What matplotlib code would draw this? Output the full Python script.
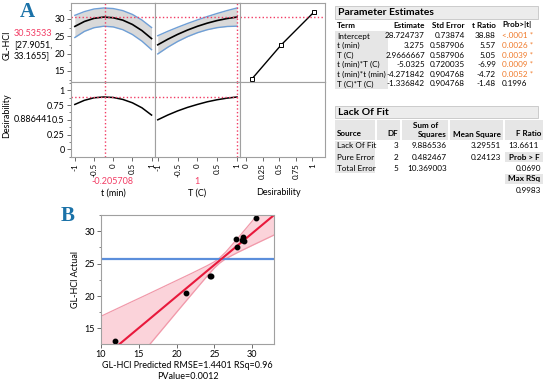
import numpy as np
import matplotlib
matplotlib.use('Agg')
import matplotlib.pyplot as plt
from matplotlib.patches import Rectangle
from matplotlib.ticker import MultipleLocator

plt.rcParams['font.family'] = ['Lato', 'DejaVu Sans']

# profiler curves
t_levels = [-1, -0.75, -0.5, -0.25, 0, 0.25, 0.5, 0.75, 1]
gl_t = [27.84, 29.27, 30.17, 30.53, 30.35, 29.65, 28.41, 26.63, 24.33]
gl_t_hi = [31.04, 32.12, 32.87, 33.16, 33.0, 32.4, 31.31, 29.68, 27.53]
gl_t_lo = [24.64, 26.42, 27.47, 27.90, 27.70, 26.90, 25.51, 23.58, 21.13]
gl_T = [22.53, 24.12, 25.54, 26.79, 27.87, 28.79, 29.54, 30.12, 30.54]
gl_T_hi = [25.16, 26.42, 27.59, 28.69, 29.72, 30.69, 31.59, 32.42, 33.17]
gl_T_lo = [19.90, 21.82, 23.49, 24.89, 26.02, 26.89, 27.49, 27.82, 27.91]
des_t = [0.76, 0.83, 0.873, 0.886, 0.878, 0.845, 0.788, 0.703, 0.58]
des_T = [0.50, 0.58, 0.65, 0.71, 0.76, 0.805, 0.84, 0.867, 0.886]
des_fun_x = [0.09, 0.53, 1.03]
des_fun_y = [12.7, 22.5, 32.1]
best_t, best_T = -0.205708, 1
best_gl, best_des = 30.53533, 0.886441

# actual by predicted
predicted = [11.9, 21.3, 24.4, 24.55, 27.9, 28.05, 28.6, 28.8, 28.95, 30.55]
actual = [13.05, 20.4, 23.05, 23.1, 28.87, 27.5, 28.7, 29.1, 28.45, 32.05]
band_x = [10, 12, 14, 16, 18, 20, 22, 24, 25, 25.7, 26.5, 28, 30, 32.9]
fit_y = [10.21, 12.15, 14.10, 16.04, 17.99, 19.94, 21.88, 23.83, 24.80, 25.48, 26.26, 27.72, 29.67, 32.49]
band_hi = [16.88, 17.98, 19.08, 20.17, 21.28, 22.39, 23.50, 24.65, 25.28, 25.88, 26.77, 28.77, 31.54, 35.57]
band_lo = [3.54, 6.32, 9.12, 11.91, 14.70, 17.49, 20.26, 23.01, 24.32, 25.08, 25.75, 26.67, 27.80, 29.41]
mean_actual = 25.65

# tables
terms = ["Intercept", "t (min)", "T (C)", "t (min)*T (C)", "t (min)*t (min)", "T (C)*T (C)"]
estimates = ["28.724737", "3.275", "2.9666667", "-5.0325", "-4.271842", "-1.336842"]
std_errors = ["0.73874", "0.587906", "0.587906", "0.720035", "0.904768", "0.904768"]
t_ratios = ["38.88", "5.57", "5.05", "-6.99", "-4.72", "-1.48"]
probs = ["<.0001 *", "0.0026 *", "0.0039 *", "0.0009 *", "0.0052 *", "0.1996"]
sources = ["Lack Of Fit", "Pure Error", "Total Error"]
dfs = ["3", "2", "5"]
sum_sq = ["9.886536", "0.482467", "10.369003"]
mean_sq = ["3.29551", "0.24123", ""]
f_ratio, prob_f, max_rsq = "13.6611", "0.0690", "0.9983"

W, H = 550, 381
RED = '#f23c64'
GRID = '#a0a0a0'
FS = 5.9

fig = plt.figure(figsize=(W / 100, H / 100), dpi=100)


def add_ax(l, t, r, b):
    return fig.add_axes([l / W, 1 - b / H, (r - l) / W, (b - t) / H])


def txt(x, y, s, **kw):
    kw.setdefault('fontsize', FS)
    kw.setdefault('va', 'center')
    return fig.text(x / W, 1 - y / H, s, **kw)


def box(l, t, r, b, fc='#e6e6e6', ec='none'):
    fig.add_artist(Rectangle((l / W, 1 - b / H), (r - l) / W, (b - t) / H,
                             transform=fig.transFigure, facecolor=fc, edgecolor=ec, lw=0.6))


def style(ax):
    for s in ax.spines.values():
        s.set_color(GRID)
        s.set_linewidth(0.8)
    ax.tick_params(labelsize=6.5, length=3, width=0.6, color='#555555', pad=1.5)
    ax.tick_params(which='minor', length=1.8, width=0.5, color='#555555')


# ---- panel A: profiler ----
cols = [(71, 155), (155, 240), (240, 325)]
rows = [(3, 82), (82, 157)]
xlims = [(-1.1, 1.09), (-1.07, 1.075), (-0.09, 1.19)]
axes = [[add_ax(c[0], r[0], c[1], r[1]) for c in cols] for r in rows]

for i in range(2):
    for j in range(3):
        ax = axes[i][j]
        style(ax)
        ax.set_xlim(*xlims[j])
        ax.set_ylim((11.8, 34.6) if i == 0 else (-0.13, 1.14))
        if j > 0:
            ax.tick_params(left=False, labelleft=False, which='both')
        if i == 0:
            ax.tick_params(bottom=False, labelbottom=False)

for ax in axes[1][:2]:
    ax.set_xticks([-1, -0.5, 0, 0.5, 1])
    ax.set_xticklabels(['-1', '-0.5', '0', '0.5', '1'], rotation=90, fontsize=5.8)
axes[1][2].set_xticks([0, 0.25, 0.5, 0.75, 1])
axes[1][2].set_xticklabels(['0', '0.25', '0.5', '0.75', '1'], rotation=90, fontsize=5.8)
axes[0][0].set_yticks([15, 20, 25, 30])
axes[0][0].yaxis.set_minor_locator(MultipleLocator(2.5))
axes[1][0].set_yticks([0, 0.25, 0.5, 0.75, 1])
axes[1][0].set_yticklabels(['0', '0.25', '0.5', '0.75', '1'])
axes[1][0].yaxis.set_minor_locator(MultipleLocator(0.125))

for ax, x, y, lo, hi in [(axes[0][0], t_levels, gl_t, gl_t_lo, gl_t_hi),
                         (axes[0][1], t_levels, gl_T, gl_T_lo, gl_T_hi)]:
    ax.fill_between(x, lo, hi, color='#d9d9d9', lw=0)
    ax.plot(x, lo, color='#6f9fd6', lw=1)
    ax.plot(x, hi, color='#6f9fd6', lw=1)
    ax.plot(x, y, color='black', lw=1.2)
axes[1][0].plot(t_levels, des_t, color='black', lw=1.1)
axes[1][1].plot(t_levels, des_T, color='black', lw=1.1)
axes[0][2].plot(des_fun_x, des_fun_y, color='black', lw=1, marker='s', ms=3,
                mfc='white', mec='black', mew=0.7)

for ax in axes[0]:
    ax.axhline(best_gl, color=RED, ls=':', lw=1)
for ax in axes[1][:2]:
    ax.axhline(best_des, color=RED, ls=':', lw=1)
for i in range(2):
    axes[i][0].axvline(best_t, color=RED, ls=':', lw=1)
    axes[i][1].axvline(best_T, color=RED, ls=':', lw=1)

txt(7, 45, 'GL-HCl', rotation=90, ha='center', fontsize=6.5)
txt(14, 34, f'{best_gl:.5f}', color=RED, fontsize=6.5)
txt(14, 45, '[27.9051,', fontsize=6.5)
txt(14, 56, '33.1655]', fontsize=6.5)
txt(7, 116, 'Desirability', rotation=90, ha='center', fontsize=6.5)
txt(14, 119, f'{best_des:.6f}', fontsize=6.5)
txt(112, 181.5, f'{best_t:.6f}', color=RED, ha='center', fontsize=6.5)
txt(197, 181.5, str(best_T), color=RED, ha='center', fontsize=6.5)
txt(113, 193, 't (min)', ha='center', fontsize=6.5)
txt(197, 193, 'T (C)', ha='center', fontsize=6.5)
txt(278, 193, 'Desirability', ha='center', fontsize=6.5)

txt(27, 12, 'A', family='Liberation Serif', weight='bold', fontsize=15,
    color='#1b72a8', ha='center')
txt(68, 216, 'B', family='Liberation Serif', weight='bold', fontsize=15,
    color='#1b72a8', ha='center')

# ---- parameter estimates table ----
box(335, 6, 538, 19, fc='#ececec', ec='#c4c4c4')
txt(338, 12.5, 'Parameter Estimates', weight='bold', fontsize=7.5)
box(335, 31, 388, 89)
hy = 25
txt(337, hy, 'Term', weight='bold')
txt(425, hy, 'Estimate', weight='bold', ha='right')
txt(465, hy, 'Std Error', weight='bold', ha='right')
txt(496, hy, 't Ratio', weight='bold', ha='right')
txt(502, hy, 'Prob>|t|', weight='bold')
for k in range(len(terms)):
    y = 36 + 9.6 * k
    txt(337, y, terms[k])
    txt(425, y, estimates[k], ha='right')
    txt(465, y, std_errors[k], ha='right')
    txt(496, y, t_ratios[k], ha='right')
    txt(502, y, probs[k], color='#f07a2a' if probs[k].endswith('*') else 'black')

# ---- lack of fit table ----
box(335, 106, 538, 118, fc='#ececec', ec='#c4c4c4')
txt(338, 112.5, 'Lack Of Fit', weight='bold', fontsize=7.5)
for l, r in [(335, 375), (377, 400), (402, 448), (450, 503), (505, 543)]:
    box(l, 120, r, 140)
box(335, 141, 375, 173)
box(505, 152, 543, 162)
box(505, 174, 543, 184)
txt(337, 134, 'Source', weight='bold')
txt(398, 134, 'DF', weight='bold', ha='right')
txt(426, 125, 'Sum of', weight='bold', ha='center')
txt(447, 134, 'Squares', weight='bold', ha='right')
txt(501, 134, 'Mean Square', weight='bold', ha='right')
txt(541, 134, 'F Ratio', weight='bold', ha='right')
for k in range(len(sources)):
    y = 145.5 + 11.5 * k
    txt(337, y, sources[k])
    txt(398, y, dfs[k], ha='right')
    txt(447, y, sum_sq[k], ha='right')
    txt(501, y, mean_sq[k], ha='right')
txt(539, 145.5, f_ratio, ha='right')
txt(524, 157, 'Prob > F', weight='bold', ha='center')
txt(541, 168.5, prob_f, ha='right')
txt(524, 179, 'Max RSq', weight='bold', ha='center')
txt(541, 190.5, max_rsq, ha='right')

# ---- panel B: actual by predicted ----
axb = add_ax(101, 215, 274, 344)
style(axb)
axb.set_xlim(10, 32.9)
axb.set_ylim(12.6, 32.5)
axb.set_xticks([10, 15, 20, 25, 30])
axb.set_yticks([15, 20, 25, 30])
axb.yaxis.set_minor_locator(MultipleLocator(2.5))
axb.fill_between(band_x, band_lo, band_hi, color='#fbd3da', lw=0)
axb.plot(band_x, band_lo, color='#f199aa', lw=0.9)
axb.plot(band_x, band_hi, color='#f199aa', lw=0.9)
axb.axhline(mean_actual, color='#5b8edb', lw=1.6)
axb.plot(band_x, fit_y, color='#e8193c', lw=1.5)
axb.plot(predicted, actual, 'o', color='black', ms=3.2)
axb.set_ylabel('GL-HCl Actual', fontsize=6.5, labelpad=3)
axb.set_xlabel('GL-HCl Predicted RMSE=1.4401 RSq=0.96\nPValue=0.0012',
               fontsize=6.5, labelpad=1.5, linespacing=1.25)

fig.savefig('out.png', dpi=100)
